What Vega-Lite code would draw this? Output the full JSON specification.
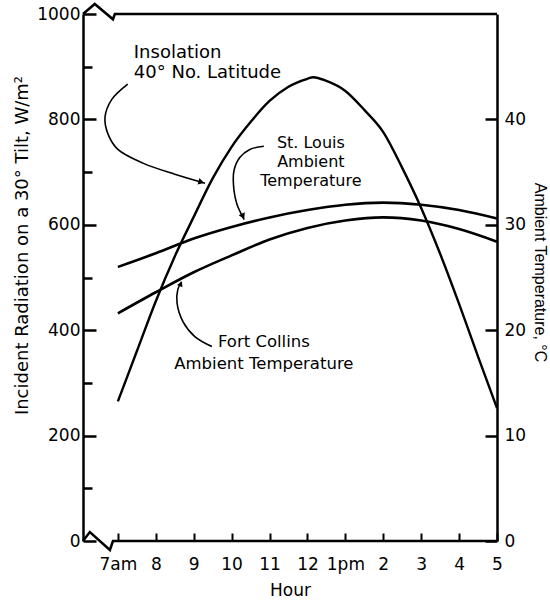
{
  "$schema": "https://vega.github.io/schema/vega-lite/v6.json",
  "width": 414,
  "height": 527,
  "autosize": "none",
  "padding": {"left": 83, "top": 14, "right": 53, "bottom": 68},
  "background": "white",
  "config": {
    "view": {"stroke": null},
    "font": "DejaVu Sans",
    "axis": {
      "labelFont": "DejaVu Sans",
      "titleFont": "DejaVu Sans",
      "labelColor": "black",
      "titleColor": "black",
      "domainColor": "black",
      "tickColor": "black",
      "grid": false,
      "titleFontWeight": "normal",
      "labelFontSize": 17,
      "titleFontSize": 17
    }
  },
  "datasets": {
    "insolation": [
      {"hour": 7, "radiation": 265}, {"hour": 7.5, "radiation": 360}, {"hour": 8, "radiation": 455},
      {"hour": 8.5, "radiation": 540}, {"hour": 9, "radiation": 615}, {"hour": 9.5, "radiation": 688},
      {"hour": 10, "radiation": 748}, {"hour": 10.5, "radiation": 795}, {"hour": 11, "radiation": 835},
      {"hour": 11.5, "radiation": 862}, {"hour": 12, "radiation": 877}, {"hour": 12.15, "radiation": 880},
      {"hour": 12.5, "radiation": 873}, {"hour": 13, "radiation": 854}, {"hour": 13.5, "radiation": 818},
      {"hour": 14, "radiation": 776}, {"hour": 14.5, "radiation": 708}, {"hour": 15, "radiation": 632},
      {"hour": 15.5, "radiation": 545}, {"hour": 16, "radiation": 450}, {"hour": 16.5, "radiation": 350},
      {"hour": 17, "radiation": 252}
    ],
    "temps": [
      {"city": "St. Louis", "hour": 7, "temp": 26.0}, {"city": "St. Louis", "hour": 8, "temp": 27.3},
      {"city": "St. Louis", "hour": 9, "temp": 28.7}, {"city": "St. Louis", "hour": 10, "temp": 29.8},
      {"city": "St. Louis", "hour": 11, "temp": 30.7}, {"city": "St. Louis", "hour": 12, "temp": 31.4},
      {"city": "St. Louis", "hour": 13, "temp": 31.9}, {"city": "St. Louis", "hour": 14, "temp": 32.1},
      {"city": "St. Louis", "hour": 15, "temp": 31.9}, {"city": "St. Louis", "hour": 16, "temp": 31.4},
      {"city": "St. Louis", "hour": 17, "temp": 30.6},
      {"city": "Fort Collins", "hour": 7, "temp": 21.6}, {"city": "Fort Collins", "hour": 8, "temp": 23.6},
      {"city": "Fort Collins", "hour": 9, "temp": 25.5}, {"city": "Fort Collins", "hour": 10, "temp": 27.1},
      {"city": "Fort Collins", "hour": 11, "temp": 28.6}, {"city": "Fort Collins", "hour": 12, "temp": 29.7},
      {"city": "Fort Collins", "hour": 13, "temp": 30.4}, {"city": "Fort Collins", "hour": 14, "temp": 30.7},
      {"city": "Fort Collins", "hour": 15, "temp": 30.4}, {"city": "Fort Collins", "hour": 16, "temp": 29.6},
      {"city": "Fort Collins", "hour": 17, "temp": 28.4}
    ],
    "frame": [
      {"edge": "top", "order": 1, "hour": 6.08, "radiation": 1000},
      {"edge": "top", "order": 2, "hour": 6.39, "radiation": 1019},
      {"edge": "top", "order": 3, "hour": 6.87, "radiation": 990},
      {"edge": "top", "order": 4, "hour": 6.92, "radiation": 1000},
      {"edge": "top", "order": 5, "hour": 17, "radiation": 1000},
      {"edge": "bottom", "order": 1, "hour": 6.08, "radiation": 0},
      {"edge": "bottom", "order": 2, "hour": 6.26, "radiation": 17},
      {"edge": "bottom", "order": 3, "hour": 6.79, "radiation": -17},
      {"edge": "bottom", "order": 4, "hour": 6.87, "radiation": 0},
      {"edge": "bottom", "order": 5, "hour": 17, "radiation": 0}
    ],
    "leaders": [
      {"id": "ins", "order": 1, "hour": 7.26, "radiation": 867},
      {"id": "ins", "order": 2, "hour": 6.84, "radiation": 838},
      {"id": "ins", "order": 3, "hour": 6.66, "radiation": 804},
      {"id": "ins", "order": 4, "hour": 6.74, "radiation": 772},
      {"id": "ins", "order": 5, "hour": 7.0, "radiation": 743},
      {"id": "ins", "order": 6, "hour": 7.66, "radiation": 717},
      {"id": "ins", "order": 7, "hour": 8.5, "radiation": 696},
      {"id": "ins", "order": 8, "hour": 9.3, "radiation": 679},
      {"id": "stl", "order": 1, "hour": 10.85, "radiation": 749},
      {"id": "stl", "order": 2, "hour": 10.48, "radiation": 743},
      {"id": "stl", "order": 3, "hour": 10.22, "radiation": 728},
      {"id": "stl", "order": 4, "hour": 10.06, "radiation": 702},
      {"id": "stl", "order": 5, "hour": 10.06, "radiation": 667},
      {"id": "stl", "order": 6, "hour": 10.14, "radiation": 639},
      {"id": "stl", "order": 7, "hour": 10.33, "radiation": 610},
      {"id": "fc", "order": 1, "hour": 9.48, "radiation": 369},
      {"id": "fc", "order": 2, "hour": 9.03, "radiation": 388},
      {"id": "fc", "order": 3, "hour": 8.72, "radiation": 416},
      {"id": "fc", "order": 4, "hour": 8.56, "radiation": 452},
      {"id": "fc", "order": 5, "hour": 8.58, "radiation": 477},
      {"id": "fc", "order": 6, "hour": 8.68, "radiation": 492}
    ],
    "arrowIns": [{"hour": 9.2, "radiation": 681}],
    "arrowStl": [{"hour": 10.3, "radiation": 616}],
    "arrowFc": [{"hour": 8.66, "radiation": 488}],
    "labelsLeft": [
      {"hour": 7.42, "radiation": 916, "text": "Insolation"},
      {"hour": 7.42, "radiation": 878, "text": "40° No. Latitude"}
    ],
    "labelsStl": [
      {"hour": 12.09, "radiation": 745, "text": "St. Louis"},
      {"hour": 12.09, "radiation": 709, "text": "Ambient"},
      {"hour": 12.09, "radiation": 673, "text": "Temperature"}
    ],
    "labelsFc": [
      {"hour": 10.85, "radiation": 369, "text": "Fort Collins"},
      {"hour": 10.85, "radiation": 327, "text": "Ambient Temperature"}
    ]
  },
  "resolve": {"scale": {"y": "independent"}},
  "layer": [
    {
      "layer": [
        {
          "data": {"name": "insolation"},
          "mark": {"type": "line", "color": "black", "strokeWidth": 2.4, "interpolate": "monotone"},
          "encoding": {
            "x": {
              "field": "hour", "type": "quantitative",
              "scale": {"domain": [6.08, 17], "nice": false, "zero": false},
              "title": "Hour",
              "axis": {
                "values": [7, 8, 9, 10, 11, 12, 13, 14, 15, 16, 17],
                "labelExpr": "datum.value == 7 ? '7am' : datum.value == 13 ? '1pm' : datum.value > 12 ? '' + (datum.value - 12) : '' + datum.value",
                "domain": false,
                "tickSize": -8,
                "tickWidth": 2,
                "labelPadding": 23,
                "titlePadding": 10,
                "labelFlush": false
              }
            },
            "y": {
              "field": "radiation", "type": "quantitative",
              "scale": {"domain": [0, 1000], "nice": false},
              "title": "Incident Radiation on a 30° Tilt, W/m²",
              "axis": {
                "orient": "left",
                "values": [0, 100, 200, 300, 400, 500, 600, 700, 800, 900, 1000],
                "format": "d",
                "labelExpr": "datum.value % 200 === 0 ? datum.label : ''",
                "domainWidth": 2.5,
                "tickWidth": 2.5,
                "tickSize": {"condition": {"test": "datum.value % 200 === 0", "value": -13}, "value": -9},
                "labelPadding": 16,
                "titlePadding": 5,
                "titleFontSize": 18,
                "titleY": 231,
                "labelFlush": false
              }
            }
          }
        },
        {
          "data": {"name": "frame"},
          "mark": {"type": "line", "color": "black", "strokeWidth": 2.5, "clip": false, "interpolate": "linear"},
          "encoding": {
            "x": {"field": "hour", "type": "quantitative"},
            "y": {"field": "radiation", "type": "quantitative"},
            "detail": {"field": "edge"},
            "order": {"field": "order"}
          }
        },
        {
          "data": {"name": "leaders"},
          "mark": {"type": "line", "color": "black", "strokeWidth": 1.6, "clip": false, "interpolate": "catmull-rom"},
          "encoding": {
            "x": {"field": "hour", "type": "quantitative"},
            "y": {"field": "radiation", "type": "quantitative"},
            "detail": {"field": "id"},
            "order": {"field": "order"}
          }
        },
        {
          "data": {"name": "arrowIns"},
          "mark": {"type": "point", "shape": "triangle-up", "filled": true, "color": "black", "opacity": 1, "size": 45, "angle": 107},
          "encoding": {
            "x": {"field": "hour", "type": "quantitative"},
            "y": {"field": "radiation", "type": "quantitative"}
          }
        },
        {
          "data": {"name": "arrowStl"},
          "mark": {"type": "point", "shape": "triangle-up", "filled": true, "color": "black", "opacity": 1, "size": 45, "angle": 155},
          "encoding": {
            "x": {"field": "hour", "type": "quantitative"},
            "y": {"field": "radiation", "type": "quantitative"}
          }
        },
        {
          "data": {"name": "arrowFc"},
          "mark": {"type": "point", "shape": "triangle-up", "filled": true, "color": "black", "opacity": 1, "size": 35, "angle": 24},
          "encoding": {
            "x": {"field": "hour", "type": "quantitative"},
            "y": {"field": "radiation", "type": "quantitative"}
          }
        },
        {
          "data": {"name": "labelsLeft"},
          "mark": {"type": "text", "align": "left", "baseline": "alphabetic", "font": "DejaVu Sans", "fontSize": 18, "color": "black"},
          "encoding": {
            "x": {"field": "hour", "type": "quantitative"},
            "y": {"field": "radiation", "type": "quantitative"},
            "text": {"field": "text"}
          }
        },
        {
          "data": {"name": "labelsStl"},
          "mark": {"type": "text", "align": "center", "baseline": "alphabetic", "font": "DejaVu Sans", "fontSize": 16, "color": "black"},
          "encoding": {
            "x": {"field": "hour", "type": "quantitative"},
            "y": {"field": "radiation", "type": "quantitative"},
            "text": {"field": "text"}
          }
        },
        {
          "data": {"name": "labelsFc"},
          "mark": {"type": "text", "align": "center", "baseline": "alphabetic", "font": "DejaVu Sans", "fontSize": 16.5, "color": "black"},
          "encoding": {
            "x": {"field": "hour", "type": "quantitative"},
            "y": {"field": "radiation", "type": "quantitative"},
            "text": {"field": "text"}
          }
        }
      ]
    },
    {
      "data": {"name": "temps"},
      "mark": {"type": "line", "color": "black", "strokeWidth": 2.6, "interpolate": "monotone"},
      "encoding": {
        "x": {"field": "hour", "type": "quantitative"},
        "y": {
          "field": "temp", "type": "quantitative",
          "scale": {"domain": [0, 50], "nice": false},
          "title": "Ambient Temperature, °C",
          "axis": {
            "orient": "right",
            "values": [0, 10, 20, 30, 40],
            "domainWidth": 2.5,
            "tickWidth": 2.5,
            "tickSize": -12,
            "labelPadding": 19,
            "titlePadding": 6,
            "titleFont": "Liberation Sans",
            "titleFontSize": 16,
            "titleY": 258,
            "labelFlush": false
          }
        },
        "detail": {"field": "city"}
      }
    }
  ]
}
